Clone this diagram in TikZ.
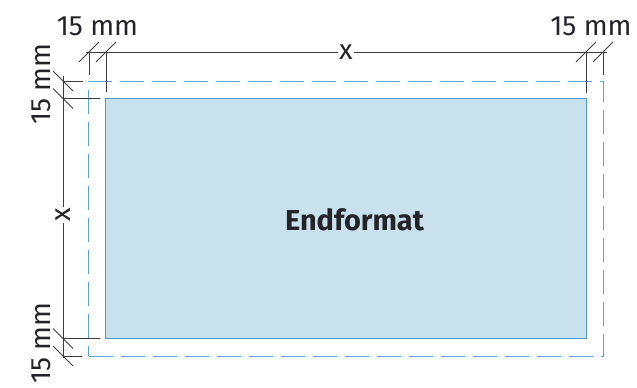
\documentclass[tikz,border=0pt]{standalone}
\usepackage{fontspec}
\setmainfont{Fira Sans}
\usetikzlibrary{calc}
\definecolor{fillblue}{RGB}{200,225,237}
\definecolor{lineblue}{RGB}{75,155,210}
\definecolor{dashblue}{RGB}{90,165,215}
\definecolor{dimgray}{RGB}{60,60,60}
\definecolor{txt}{RGB}{35,35,40}
\tikzset{
  trim/.style={draw=lineblue, line width=1bp, fill=fillblue, inner sep=0pt, minimum width=480bp, minimum height=240bp},
  bleed/.style={draw=dashblue, line width=1bp, dash pattern=on 24bp off 8bp, inner sep=0pt, minimum width=514bp, minimum height=275bp},
  dimline/.style={draw=dimgray, line width=0.8bp},
  title/.style={text=txt, font=\fontsize{29}{30}\selectfont\bfseries, inner sep=0pt},
  lbl/.style={text=txt, font=\fontsize{28}{30}\selectfont, inner sep=0pt},
  xlbl/.style={text=txt, font=\fontsize{28}{30}\selectfont, fill=white, inner sep=1.5bp},
}
\newcommand{\htick}[1]{\draw[dimline] ($(#1)+(-10,10)$) -- ($(#1)+(10,-10)$);}
\newcommand{\vtick}[1]{\draw[dimline] ($(#1)+(-10,-10)$) -- ($(#1)+(10,10)$);}
\begin{document}
\begin{tikzpicture}[x=1bp,y=-1bp]
\useasboundingbox (0,0) rectangle (637,387);
\node[bleed] (bleed) at (346,218.5) {};
\node[trim] (trim) at (346,218.5) {};
\node[title] (endlbl) at (354.5,220) {Endformat};
% top dimension
\coordinate (ta) at (86,52);
\coordinate (tb) at (607,52);
\coordinate (t1) at (89,52);
\coordinate (t2) at (106,52);
\coordinate (t3) at (586,52);
\coordinate (t4) at (603,52);
\coordinate (t1e) at (89,75);
\coordinate (t2e) at (106,92);
\coordinate (t3e) at (586,93);
\coordinate (t4e) at (603,75);
\draw[dimline] (ta) -- (tb);
\draw[dimline] (t1) -- (t1e);
\draw[dimline] (t2) -- (t2e);
\draw[dimline] (t3) -- (t3e);
\draw[dimline] (t4) -- (t4e);
\htick{t1}\htick{t2}\htick{t3}\htick{t4}
\node[xlbl] (xtop) at (346,52) {x};
% left dimension
\coordinate (la) at (63,76);
\coordinate (lb) at (63,358);
\coordinate (l1) at (63,81);
\coordinate (l2) at (63,98.5);
\coordinate (l3) at (63,338.5);
\coordinate (l4) at (63,356);
\coordinate (l1e) at (83,81);
\coordinate (l2e) at (100,98.5);
\coordinate (l3e) at (100,338.5);
\coordinate (l4e) at (82,356);
\draw[dimline] (la) -- (lb);
\draw[dimline] (l1) -- (l1e);
\draw[dimline] (l2) -- (l2e);
\draw[dimline] (l3) -- (l3e);
\draw[dimline] (l4) -- (l4e);
\vtick{l1}\vtick{l2}\vtick{l3}\vtick{l4}
\node[xlbl, rotate=90] (xleft) at (63,215) {x};
% labels
\node[lbl, anchor=base] (mmtl) at (97.5,35) {15 mm};
\node[lbl, anchor=base] (mmtr) at (591,35) {15 mm};
\node[lbl, anchor=base, rotate=90] (mmlt) at (50,84) {15 mm};
\node[lbl, anchor=base, rotate=90] (mmlb) at (50,343) {15 mm};
\end{tikzpicture}
\end{document}
